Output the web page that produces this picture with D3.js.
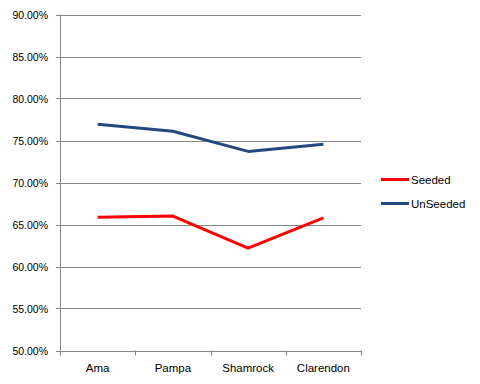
<!DOCTYPE html>
<html>
<head>
<script src="https://cdn.jsdelivr.net/npm/d3@7"></script>
<style>
  body { margin: 0; background: #fff; }
  text { font-family: "Liberation Sans", Arial, sans-serif; fill: #000; }
</style>
</head>
<body>
<svg id="chart" width="480" height="384"></svg>
<script>
// data
var sites = ['Ama', 'Pampa', 'Shamrock', 'Clarendon'];
var seeded = [0.6586, 0.6600, 0.6220, 0.6578];
var unseeded = [0.7693, 0.7610, 0.7370, 0.7455];
var yTicks = [0.50, 0.55, 0.60, 0.65, 0.70, 0.75, 0.80, 0.85, 0.90];

var svg = d3.select('#chart');
// plot box (note: "top" is taken by window.top, so use other names)
var pLeft = 60, pRight = 361, pTop = 14.5, pBottom = 350.5;

var xs = d3.scaleBand().domain(sites).range([pLeft, pRight]);
var ys = d3.scaleLinear().domain([0.5, 0.9]).range([pBottom, pTop]);

// horizontal gridlines
svg.append('g')
  .selectAll('line')
  .data(yTicks)
  .enter()
  .append('line')
    .attr('x1', pLeft - 4)
    .attr('x2', pRight)
    .attr('y1', d => Math.round(ys(d)) + 0.5)
    .attr('y2', d => Math.round(ys(d)) + 0.5)
    .style('stroke', '#868686')
    .style('stroke-width', 1);

// y axis line + labels
svg.append('line')
  .attr('x1', pLeft + 0.5).attr('x2', pLeft + 0.5)
  .attr('y1', ys(0.9)).attr('y2', ys(0.5))
  .style('stroke', '#868686');

svg.append('g')
  .selectAll('text')
  .data(yTicks)
  .enter()
  .append('text')
    .attr('x', 48)
    .attr('y', d => ys(d) + 4)
    .attr('text-anchor', 'end')
    .style('font-size', '10.5px')
    .text(d => (d * 100).toFixed(2) + '%');

// x axis ticks at category boundaries
var bounds = sites.map(s => xs(s)).concat([pRight]);
svg.append('g')
  .selectAll('line')
  .data(bounds)
  .enter()
  .append('line')
    .attr('x1', d => Math.round(d) + 0.5)
    .attr('x2', d => Math.round(d) + 0.5)
    .attr('y1', pBottom)
    .attr('y2', pBottom + 5)
    .style('stroke', '#868686');

svg.append('g')
  .selectAll('text')
  .data(sites)
  .enter()
  .append('text')
    .attr('x', d => xs(d) + xs.bandwidth() / 2)
    .attr('y', 372)
    .attr('text-anchor', 'middle')
    .style('font-size', '11.5px')
    .text(d => d);

// lines
var line = d3.line()
  .x((d, i) => xs(sites[i]) + xs.bandwidth() / 2)
  .y(d => ys(d));

var series = [
  { name: 'Seeded', values: seeded, color: '#ff0000' },
  { name: 'UnSeeded', values: unseeded, color: '#24497f' }
];

svg.append('g')
  .selectAll('path')
  .data(series)
  .enter()
  .append('path')
    .attr('d', d => line(d.values))
    .style('fill', 'none')
    .style('stroke', d => d.color)
    .style('stroke-width', 3)
    .style('stroke-linejoin', 'round');

// legend
var lg = svg.append('g')
  .selectAll('g')
  .data(series)
  .enter()
  .append('g')
    .attr('transform', (d, i) => 'translate(381,' + (179.5 + i * 24) + ')');
lg.append('line')
  .attr('x1', 0).attr('x2', 28)
  .style('stroke', d => d.color)
  .style('stroke-width', 3);
lg.append('text')
  .attr('x', 30)
  .attr('y', 4.5)
  .style('font-size', '11.5px')
  .text(d => d.name);
</script>
</body>
</html>
